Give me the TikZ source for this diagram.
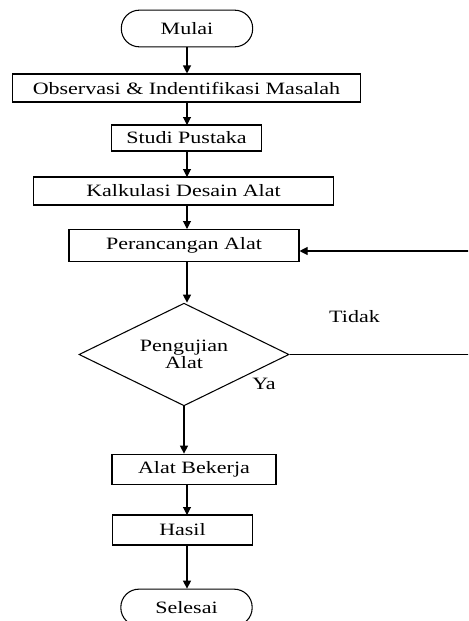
\documentclass[tikz,border=0pt]{standalone}
\usepackage{fontspec}
\setmainfont{Liberation Serif}[FakeStretch=1.27]
\usetikzlibrary{shapes.geometric,arrows.meta}

\begin{document}
\begin{tikzpicture}[x=0.75pt,y=-0.75pt,
    font=\fontsize{13}{15}\selectfont,
    every node/.style={inner sep=0pt},
    proses/.style={draw,line width=0.8pt,rectangle},
    terminal/.style={draw,line width=0.8pt,rectangle,rounded corners=13.5pt,minimum width=98.5pt,minimum height=27.5pt},
    keputusan/.style={draw,line width=0.8pt,diamond,aspect=2,align=center,minimum width=157.5pt,minimum height=77pt},
    panah/.style={-{Triangle[length=6pt,width=6pt]},line width=0.8pt}]

    \clip (0,0) rectangle (468,621);

    % kotak alur
    \node[terminal] (mulai) at (187,28.5) {Mulai};
    \node[proses,minimum width=261.5pt,minimum height=21pt] (obs) at (186.5,88) {Observasi \& Indentifikasi Masalah};
    \node[proses,minimum width=113pt,minimum height=19.5pt] (studi) at (186.5,138) {Studi Pustaka};
    \node[proses,minimum width=225.5pt,minimum height=21pt] (kalk) at (183.5,191) {Kalkulasi Desain Alat};
    \node[proses,minimum width=172.5pt,minimum height=24pt] (rancang) at (184,245.5) {Perancangan Alat};
    \node[keputusan] (uji) at (184,354.5) {Pengujian\\[-2pt]Alat};
    \node[proses,minimum width=123pt,minimum height=23pt] (kerja) at (194,469.5) {Alat Bekerja};
    \node[proses,minimum width=105.5pt,minimum height=22.5pt] (hasil) at (182.5,530) {Hasil};
    \node[terminal] (selesai) at (186.5,607.5) {Selesai};

    \node (tidak) at (354.5,317) {Tidak};
    \node (ya) at (264,384) {Ya};

    \coordinate (kanan1) at (474,354.5);
    \coordinate (kanan2) at (474,251);

    % panah turun
    \draw[panah] (mulai.south) -- (mulai.south |- obs.north);
    \draw[panah] (187,102) -- (187,125);
    \draw[panah] (187,151) -- (187,177);
    \draw[panah] (187,205) -- (187,229);
    \draw[panah] (187,261.5) -- (uji.north -| 187,0);
    \draw[panah] (uji.south) -- (uji.south |- kerja.north);
    \draw[panah] (187,485) -- (187,515);
    \draw[panah] (187,545) -- (selesai.north -| 187,0);

    % balik ke perancangan
    \draw[line width=0.8pt] (uji.east) -- (kanan1) -- (kanan2);
    \draw[panah] (kanan2) -- (kanan2 -| rancang.east);
\end{tikzpicture}
\end{document}
